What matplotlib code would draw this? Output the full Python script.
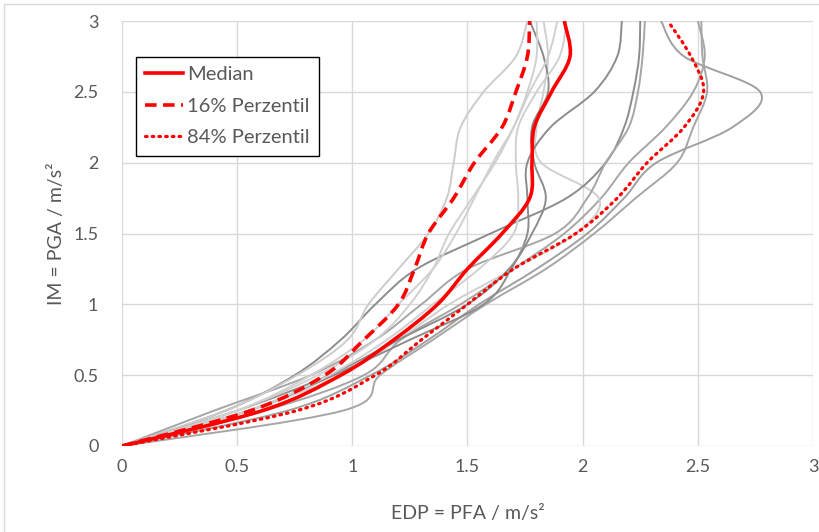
import numpy as np
import matplotlib
matplotlib.use("Agg")
import matplotlib.pyplot as plt
from matplotlib.path import Path
from matplotlib.patches import PathPatch, Rectangle
from matplotlib.lines import Line2D

# ---------------- data ----------------
IM_LEVELS = [0, 0.25, 0.5, 0.75, 1.0, 1.25, 1.5, 1.75, 2.0, 2.25, 2.5, 2.75, 3.0]

median_edp = [0, 0.61, 0.95, 1.18, 1.37, 1.50, 1.65, 1.77, 1.78, 1.79, 1.865, 1.945, 1.92]
p16_edp = [0, 0.56, 0.88, 1.05, 1.20, 1.27, 1.33, 1.44, 1.53, 1.65, 1.71, 1.76, 1.77]
p84_edp = [0, 0.76, 1.10, 1.30, 1.50, 1.70, 1.97, 2.15, 2.28, 2.44, 2.525, 2.47, 2.37]

g1_edp = [0, 0.96, 1.12, 1.35, 1.58, 1.84, 2.05, 2.23, 2.41, 2.48, 2.54, 2.52, 2.515]
g2_edp = [0, 0.72, 1.08, 1.33, 1.55, 1.80, 2.02, 2.18, 2.32, 2.65, 2.77, 2.44, 2.34]
g3_edp = [0, 0.62, 1.05, 1.21, 1.47, 1.70, 1.92, 2.08, 2.20, 2.36, 2.48, 2.53, 2.50]
g4_edp = [0, 0.55, 0.95, 1.20, 1.42, 1.70, 1.97, 2.07, 1.82, 1.80, 1.83, 1.85, 1.83]
d1_edp = [0, 0.55, 0.92, 1.25, 1.57, 1.69, 1.76, 1.76, 1.76, 1.86, 2.05, 2.15, 2.17]
d2_edp = [0, 0.45, 0.75, 0.95, 1.10, 1.28, 1.60, 1.93, 2.10, 2.18, 2.22, 2.245, 2.25]
d3_edp = [0, 0.40, 0.82, 1.10, 1.30, 1.50, 1.88, 2.02, 2.10, 2.20, 2.24, 2.26, 2.27]
l1_edp = [0, 0.45, 0.76, 0.98, 1.07, 1.20, 1.33, 1.41, 1.44, 1.47, 1.57, 1.71, 1.76]
l2_edp = [0, 0.50, 0.90, 1.20, 1.50, 1.68, 1.78, 1.84, 1.79, 1.78, 1.85, 1.83, 1.77]
l3_edp = [0, 0.50, 0.82, 1.05, 1.20, 1.35, 1.45, 1.53, 1.61, 1.70, 1.77, 1.85, 1.89]
l4_edp = [0, 0.55, 0.90, 1.15, 1.35, 1.55, 1.70, 1.72, 1.71, 1.72, 1.80, 1.90, 1.93]
l6_edp = [0, 0.50, 0.85, 1.10, 1.25, 1.35, 1.42, 1.52, 1.62, 1.70, 1.76, 1.80, 1.80]

gray_records = [g1_edp, g2_edp, g3_edp, g4_edp, d1_edp, d2_edp, d3_edp,
                l1_edp, l2_edp, l3_edp, l4_edp, l6_edp]
gray_shades = ['#a6a6a6', '#a0a0a0', '#a6a6a6', '#d0d0d0', '#8c8c8c', '#8c8c8c',
               '#a6a6a6', '#cccccc', '#8c8c8c', '#d0d0d0', '#d0d0d0', '#d0d0d0']

legend_labels = ['Median', '16% Perzentil', '84% Perzentil']
tick_values = [0, 0.5, 1, 1.5, 2, 2.5, 3]
tick_labels = ['0', '0.5', '1', '1.5', '2', '2.5', '3']
x_label = 'EDP = PFA / m/s²'
y_label = 'IM = PGA / m/s²'

# ---------------- helpers ----------------
def smooth_path(xs, ys):
    pts = np.column_stack([xs, ys]).astype(float)
    n = len(pts)
    verts = [pts[0]]
    codes = [Path.MOVETO]
    for i in range(n - 1):
        p0 = pts[i - 1] if i > 0 else pts[i]
        p1 = pts[i]
        p2 = pts[i + 1]
        p3 = pts[i + 2] if i + 2 < n else pts[i + 1]
        c1 = p1 + (p2 - p0) / 6.0
        c2 = p2 - (p3 - p1) / 6.0
        verts += [c1, c2, p2]
        codes += [Path.CURVE4] * 3
    return Path(verts, codes)

plt.rcParams['font.family'] = ['Lato', 'DejaVu Sans']
TXT = '#595959'

fig = plt.figure(figsize=(8.2, 5.32), dpi=100)
ax = fig.add_axes([122 / 820, 86 / 532, 691 / 820, 425 / 532])

# outer chart border
fig.patches.append(Rectangle((3.5 / 820, -0.1), 2, (528 / 532) + 0.1, transform=fig.transFigure,
                             fill=False, edgecolor='#d9d9d9', lw=1.0))

ax.set_xlim(0, 3)
ax.set_ylim(0, 3)
ax.set_xticks(tick_values)
ax.set_xticklabels(tick_labels)
ax.set_yticks(tick_values)
ax.set_yticklabels(tick_labels)
ax.grid(True, color='#d9d9d9', lw=1.0)
ax.set_axisbelow(True)
for s in ax.spines.values():
    s.set_visible(False)
ax.tick_params(length=0, labelsize=13, colors=TXT)
ax.tick_params(axis='x', pad=9)
ax.tick_params(axis='y', pad=17)
ax.set_xlabel(x_label, fontsize=14, color=TXT, labelpad=22)
ax.set_ylabel(y_label, fontsize=14, color=TXT, labelpad=6)

for edp, col in zip(gray_records, gray_shades):
    ax.add_patch(PathPatch(smooth_path(edp, IM_LEVELS), facecolor='none',
                           edgecolor=col, lw=1.4, zorder=2))

red = '#ff0000'
ax.add_patch(PathPatch(smooth_path(p84_edp, IM_LEVELS), facecolor='none', edgecolor=red,
                       lw=2.3, linestyle=(0, (0.5, 1.6)), capstyle='round', zorder=3))
ax.add_patch(PathPatch(smooth_path(p16_edp, IM_LEVELS), facecolor='none', edgecolor=red,
                       lw=2.6, linestyle=(0, (3.2, 1.8)), zorder=3))
ax.add_patch(PathPatch(smooth_path(median_edp, IM_LEVELS), facecolor='none', edgecolor=red,
                       lw=2.6, zorder=4))

handles = [Line2D([], [], color=red, lw=2.6),
           Line2D([], [], color=red, lw=2.6, linestyle=(0, (3.2, 1.8))),
           Line2D([], [], color=red, lw=2.3, linestyle=(0, (0.5, 1.6)), dash_capstyle='round')]
leg = ax.legend(handles, legend_labels, loc='upper left', bbox_to_anchor=(0.0203, 0.915),
                borderaxespad=0, fontsize=14.5, frameon=True, fancybox=False,
                edgecolor='black', framealpha=1, handlelength=1.9, handletextpad=0.2,
                labelspacing=0.72, borderpad=0.45)
leg.get_frame().set_linewidth(1.0)
for t in leg.get_texts():
    t.set_color(TXT)

fig.savefig('out.png', dpi=100)
